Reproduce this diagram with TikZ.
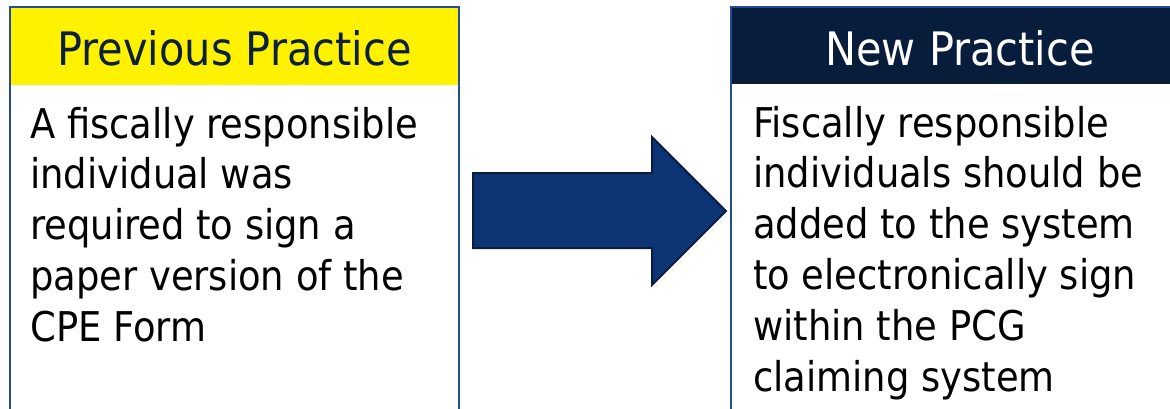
\documentclass[tikz,border=0pt]{standalone}
\usepackage{fontspec}
\setmainfont{DejaVu Sans Condensed}
\definecolor{boxborder}{HTML}{244C94}
\definecolor{navyhead}{HTML}{081C3B}
\definecolor{headtext}{HTML}{0B1F3F}
\definecolor{arrowfill}{HTML}{0D3576}
\definecolor{arrowline}{HTML}{0A1E3C}
\begin{document}
\begin{tikzpicture}[x=0.75pt,y=-0.75pt,
  frame/.style={draw=boxborder,line width=1.8pt},
  headtxt/.style={anchor=base,inner sep=0pt,font=\fontsize{34.6}{40}\selectfont},
  bodytxt/.style={anchor=base west,inner sep=0pt,font=\fontsize{30.75}{38}\selectfont}]
\useasboundingbox (0,0) rectangle (1170,408);
\begin{scope}
\clip (0,0) rectangle (1170,408);
% left box
\fill[yellow] (10,7) rectangle (459,85);
\draw[frame] (10,430) -- (10,7) -- (459,7) -- (459,430);
% right box
\fill[navyhead] (731,7) rectangle (1189,84);
\draw[frame] (731,430) -- (731,7) -- (1189,7) -- (1189,430);
\end{scope}
\node[headtxt,text=headtext] (hl) at (234.5,65) {Previous Practice};
\node[headtxt,text=white] (hr) at (960,65) {New Practice};
\foreach \t [count=\i] in {A fiscally responsible,individual was,required to sign a,paper version of the,CPE Form}
  \node[bodytxt] (l\i) at (30,{138+50.8*(\i-1)}) {\t};
\foreach \t [count=\i] in {Fiscally responsible,individuals should be,added to the system,to electronically sign,within the PCG,claiming system}
  \node[bodytxt] (r\i) at (753,{137+50.8*(\i-1)}) {\t};
% block arrow
\draw[arrowline,fill=arrowfill,line width=1.5pt,line join=miter]
  (473,173) -- (652,173) -- (652,137) -- (726,211) -- (652,285) -- (652,248) -- (473,248) -- cycle;
\end{tikzpicture}
\end{document}
